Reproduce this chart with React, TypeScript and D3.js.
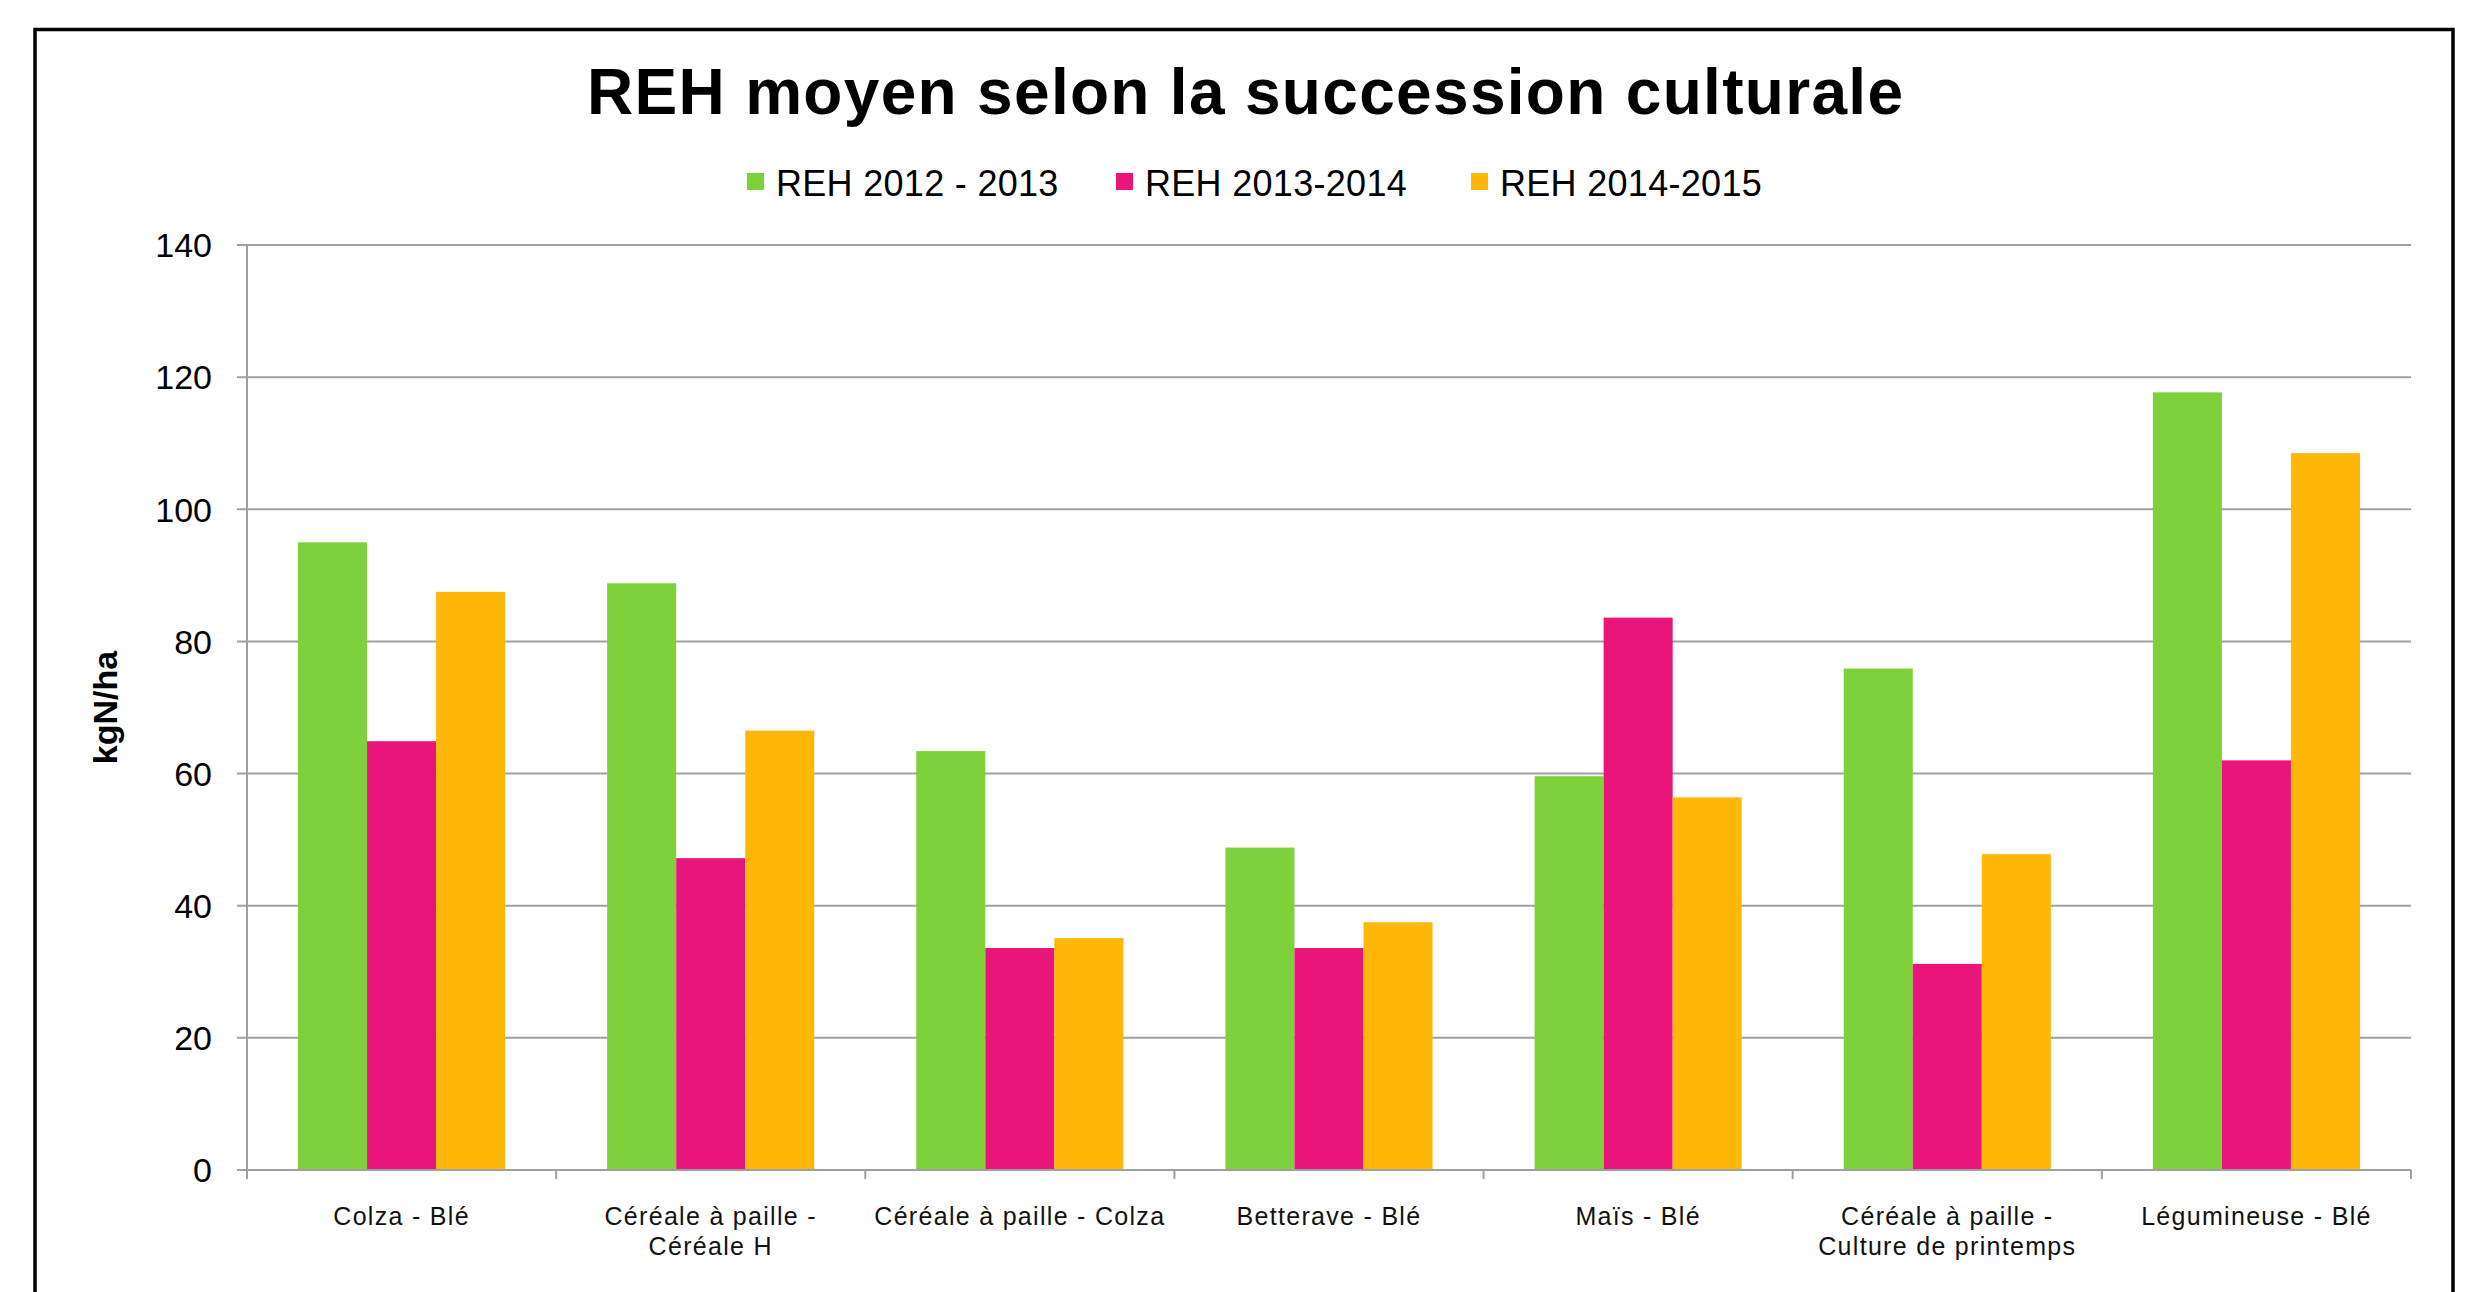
import React from "react";
import * as d3 from "d3";

const categories: string[][] = [
  ["Colza - Blé"],
  ["Céréale à paille -", "Céréale H"],
  ["Céréale à paille - Colza"],
  ["Betterave - Blé"],
  ["Maïs - Blé"],
  ["Céréale à paille -", "Culture de printemps"],
  ["Légumineuse - Blé"],
];
const seriesNames = ["REH 2012 - 2013", "REH 2013-2014", "REH 2014-2015"];
const reh2012 = [95.0, 88.8, 63.4, 48.8, 59.6, 75.9, 117.7];
const reh2013 = [64.9, 47.2, 33.6, 33.6, 83.6, 31.2, 62.0];
const reh2014 = [87.5, 66.5, 35.1, 37.5, 56.4, 47.8, 108.5];
const yTicks = [0, 20, 40, 60, 80, 100, 120, 140];
const colors = ["#7fd13b", "#ea157a", "#feb80a"];

const W = 2486;
const H = 1292;
const plot = { left: 247, right: 2411, top: 245, bottom: 1170 };

export default function App() {
  const series = [reh2012, reh2013, reh2014];
  const catIdx = categories.map((_, i) => String(i));
  const x0 = d3.scaleBand<string>().domain(catIdx).range([plot.left, plot.right]).padding(0);
  const bw = x0.bandwidth();
  const x1 = d3
    .scaleBand<string>()
    .domain(seriesNames)
    .range([bw * 0.165, bw * 0.835])
    .padding(0);
  const y = d3.scaleLinear().domain([0, 140]).range([plot.bottom, plot.top]);
  const font = "'Liberation Sans', Arial, sans-serif";
  const legendX = [747, 1116, 1471];
  const boundaries = d3.range(categories.length + 1).map((k) => plot.left + bw * k);

  return (
    <svg
      width={W}
      height={H}
      style={{ position: "absolute", left: 0, top: 0, background: "#fff" }}
      fontFamily={font}
    >
      <rect x={0} y={0} width={W} height={H} fill="#fff" />
      <rect x={35} y={29.5} width={2418} height={1320} fill="none" stroke="#000" strokeWidth={3.5} />

      <text
        x={1245}
        y={114}
        textAnchor="middle"
        fontSize={64}
        fontWeight="bold"
        textLength={1316}
        lengthAdjust="spacing"
      >
        REH moyen selon la succession culturale
      </text>

      {seriesNames.map((s, i) => (
        <g key={s}>
          <rect x={legendX[i]} y={173} width={17} height={17} fill={colors[i]} />
          <text x={legendX[i] + 29} y={196} fontSize={36} letterSpacing={0.3}>
            {s}
          </text>
        </g>
      ))}

      {yTicks.map((t) => (
        <g key={t}>
          <line x1={237} x2={plot.right} y1={y(t)} y2={y(t)} stroke="#a0a0a0" strokeWidth={2} />
          <text x={212} y={y(t)} dy="0.36em" textAnchor="end" fontSize={34}>
            {t}
          </text>
        </g>
      ))}

      <line x1={plot.left} x2={plot.left} y1={plot.top} y2={plot.bottom + 9} stroke="#a0a0a0" strokeWidth={2} />
      {boundaries.map((bx, k) => (
        <line key={k} x1={bx} x2={bx} y1={plot.bottom} y2={plot.bottom + 9} stroke="#a0a0a0" strokeWidth={2} />
      ))}

      {categories.map((c, ci) => (
        <g key={ci} transform={`translate(${x0(String(ci))},0)`}>
          {series.map((vals, si) => (
            <rect
              key={si}
              x={x1(seriesNames[si])}
              y={y(vals[ci])}
              width={x1.bandwidth()}
              height={y(0) - y(vals[ci])}
              fill={colors[si]}
            />
          ))}
        </g>
      ))}

      <line x1={plot.left} x2={plot.right} y1={plot.bottom} y2={plot.bottom} stroke="#a0a0a0" strokeWidth={2} />

      {categories.map((lines, ci) => (
        <text
          key={ci}
          x={(x0(String(ci)) as number) + bw / 2}
          y={1225}
          textAnchor="middle"
          fontSize={25}
          letterSpacing={1.3}
          fill="#111"
        >
          {lines.map((l, li) => (
            <tspan key={li} x={(x0(String(ci)) as number) + bw / 2} dy={li === 0 ? 0 : 30}>
              {l}
            </tspan>
          ))}
        </text>
      ))}

      <text
        transform={`translate(117,${(plot.top + plot.bottom) / 2}) rotate(-90)`}
        textAnchor="middle"
        fontSize={34}
        fontWeight="bold"
      >
        kgN/ha
      </text>
    </svg>
  );
}
